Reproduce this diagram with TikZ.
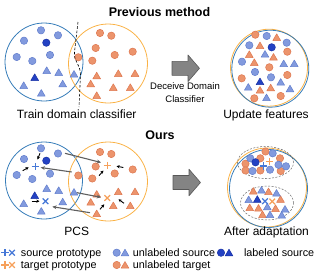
\documentclass[tikz,border=0pt]{standalone}
\usepackage{fontspec}
\setmainfont{Liberation Sans}
\usetikzlibrary{arrows.meta}
\definecolor{srcF}{RGB}{130,154,222}
\definecolor{srcD}{RGB}{98,126,205}
\definecolor{darkF}{RGB}{35,65,195}
\definecolor{darkD}{RGB}{25,50,165}
\definecolor{tgtF}{RGB}{236,148,108}
\definecolor{tgtD}{RGB}{222,118,78}
\definecolor{ringB}{RGB}{55,125,185}
\definecolor{ringO}{RGB}{250,178,70}
\definecolor{protoB}{RGB}{70,120,215}
\definecolor{protoO}{RGB}{246,160,90}
\definecolor{arrG}{RGB}{95,95,95}
\definecolor{bigF}{RGB}{132,132,132}
\definecolor{bigD}{RGB}{88,88,88}
\newcommand\Dot[3]{\filldraw[#1] (#2,#3) circle (3.7pt);}
\newcommand\Tri[3]{\filldraw[#1,line join=round] (#2,#3) +(0,-3.5) -- +(3.9,3.2) -- +(-3.9,3.2) -- cycle;}
\newcommand\Pls[3]{\draw[#1,line width=1.3pt] (#2,#3) +(-3.6,0) -- +(3.6,0) (#2,#3) +(0,-3.6) -- +(0,3.6);}
\newcommand\Crs[3]{\draw[#1,line width=1.3pt] (#2,#3) +(-2.8,-2.8) -- +(2.8,2.8) (#2,#3) +(-2.8,2.8) -- +(2.8,-2.8);}
\newcommand\BigArrow[2]{\filldraw[fill=bigF,draw=bigD,line width=0.6pt,line join=round]
  (#1,#2) ++(0,-7) -- ++(16,0) -- ++(0,-6.3) -- ++(11.5,13.3) -- ++(-11.5,13.3) -- ++(0,-6.3) -- ++(-16,0) -- cycle;}
\tikzset{
  src/.style={fill=srcF,draw=srcD,line width=0.5pt},
  dark/.style={fill=darkF,draw=darkD,line width=0.5pt},
  tgt/.style={fill=tgtF,draw=tgtD,line width=0.5pt},
  ringb/.style={draw=ringB,line width=0.8pt},
  ringo/.style={draw=ringO,line width=0.8pt},
  title/.style={font=\fontsize{12.5}{14}\selectfont\bfseries,inner sep=0pt,anchor=base},
  lab/.style={font=\fontsize{12}{14}\selectfont,inner sep=0pt,anchor=base},
  leg/.style={font=\fontsize{10.8}{13}\selectfont,inner sep=0pt,anchor=base west},
  small/.style={-{Stealth[length=3.2pt,width=3.2pt]},line width=0.9pt,black},
  long/.style={-{Stealth[length=4.2pt,width=3.8pt]},line width=1.1pt,arrG},
  dell/.style={draw=black!60,line width=0.5pt,dash pattern=on 2pt off 1.5pt}
}
\begin{document}
\begin{tikzpicture}[x=1pt,y=-1pt]
\useasboundingbox (0,0) rectangle (319,276);
% ---------------- titles
\node[title] (t1) at (159.5,16) {Previous method};
\node[title] (t2) at (160,139.5) {Ours};
% ---------------- top left
\draw[ringb] (44,62) circle (39pt);
\draw[ringo] (108,63.5) circle (39.5pt);
\foreach \x/\y in {41/30.3,58/35.3,24/40.7,16.7/57,32.3/61,50/55} {\Dot{src}{\x}{\y}}
\Dot{dark}{46.3}{42.7}
\foreach \x/\y in {46.7/70.3,58.7/72.3,74/74,23.7/85.3,62.7/83.7,41.3/93} {\Tri{src}{\x}{\y}}
\Tri{dark}{34.7}{77.3}
\foreach \x/\y in {100/33,111.3/35.7,95.7/48,114.7/55,132.7/51.7,78.3/57.3,92.3/60.7} {\Dot{tgt}{\x}{\y}}
\foreach \x/\y in {96.7/75.7,118.3/73.3,135/73.3,90.7/83.7,113.3/87.3,130.3/87.3,96.7/95.3} {\Tri{tgt}{\x}{\y}}
\draw[black,line width=0.6pt,dash pattern=on 2.5pt off 1.8pt] (78,22) -- (74.5,52) .. controls (73.5,62) and (80.5,64) .. (80.5,75) -- (79,107);
\node[lab] (l1) at (76.7,118.5) {Train domain classifier};
% ---------------- top arrow
\BigArrow{172}{68.3}
\node[font=\fontsize{9.5}{12.7}\selectfont,align=center,inner sep=0pt] (dc) at (185,92.9) {Deceive Domain\\Classifier};
% ---------------- top right
\draw[ringo] (269,67.7) circle (38.5pt);
\draw[ringb] (270.3,68.7) circle (38.5pt);
\foreach \x/\y in {255.3/34.7,287.3/51.7,269.3/67.3,241.7/78.3,287.3/75,254.3/98.3,280.7/96} {\Dot{tgt}{\x}{\y}}
\foreach \x/\y in {266.7/36,249.3/45.3,286.7/42.7,242/61.7,255/72,271/77.3} {\Dot{src}{\x}{\y}}
\Dot{dark}{271.7}{47.3}
\foreach \x/\y in {276.7/37.3,260/45.5,249.3/54.3,254.3/62.3,273.5/57,270.7/87.7,260/90} {\Tri{tgt}{\x}{\y}}
\foreach \x/\y in {265/54,283.7/63.5,294.3/63.5,248.3/87,280.7/82,290/88.7,266.5/97.5} {\Tri{src}{\x}{\y}}
\Tri{dark}{260}{81.5}
\node[lab] (l2) at (266,118.7) {Update features};
% ---------------- bottom left
\draw[ringb] (44,180.5) circle (38.5pt);
\draw[ringo] (108,181.5) circle (39.5pt);
\foreach \x/\y in {41/148.3,58/153.5,24/159,16.7/175,32.3/179,50/173.7} {\Dot{src}{\x}{\y}}
\Dot{dark}{46.3}{160.7}
\foreach \x/\y in {46.7/188.3,58.7/190.3,74/192,23.7/203.3,62.7/201.7,41.3/211} {\Tri{src}{\x}{\y}}
\Tri{dark}{34.7}{195.3}
\foreach \x/\y in {100/152,111.3/154,95.7/166.5,114.7/173.5,132.7/169.5,78.3/175.5,92.3/178.5} {\Dot{tgt}{\x}{\y}}
\foreach \x/\y in {96.7/194,118.3/191.5,135/191.5,90.7/202,113.3/205.5,130.3/205.5,96.7/213.5} {\Tri{tgt}{\x}{\y}}
\Pls{protoB}{35.3}{166.7}
\Crs{protoB}{45.5}{201.2}
\Pls{protoO}{107.3}{165.5}
\Crs{protoO}{107.3}{198}
% small arrows
\coordinate (a1s) at (40,153.3);   \coordinate (a1e) at (37.5,159.5);
\coordinate (a2s) at (22.7,170.7); \coordinate (a2e) at (28.7,167.3);
\coordinate (a3s) at (31.5,201.2); \coordinate (a3e) at (39.5,201.2);
\coordinate (a4s) at (123.3,167.5);\coordinate (a4e) at (116.5,166.2);
\coordinate (a5s) at (99,175.7);   \coordinate (a5e) at (103.5,170.5);
\coordinate (a6s) at (124,203.3);  \coordinate (a6e) at (118.5,199.3);
\coordinate (a7s) at (100,209.3);  \coordinate (a7e) at (104.3,204.3);
\foreach \i in {1,...,7} {\draw[small] (a\i s) -- (a\i e);}
% long gray arrows
\coordinate (g1s) at (65,153.3);   \coordinate (g1e) at (101,162.5);
\coordinate (g2s) at (71.7,172);   \coordinate (g2e) at (40.7,167.5);
\coordinate (g3s) at (77,192.7);   \coordinate (g3e) at (101,197.3);
\coordinate (g4s) at (90,212.7);   \coordinate (g4e) at (52.3,206.7);
\foreach \i in {1,...,4} {\draw[long] (g\i s) -- (g\i e);}
\node[lab] (l3) at (76.7,235.3) {PCS};
% ---------------- bottom arrow
\BigArrow{173}{182.5}
% ---------------- bottom right
\draw[ringo] (267,187.5) circle (39.5pt);
\draw[ringb] (268.5,188.5) circle (39pt);
\draw[dell] (265.5,162.5) ellipse (28pt and 16pt);
\draw[dell] (267,203) ellipse (26.5pt and 17pt);
\foreach \x/\y in {265.5/151.5,260.3/158.3,280/158.3,245.5/163.7,245.5/170.5,260.3/170.5,280.7/171} {\Dot{tgt}{\x}{\y}}
\foreach \x/\y in {272.7/153.3,250.3/158.3,278.5/164.8,286/166.3,252.5/171,270/169.7} {\Dot{src}{\x}{\y}}
\Dot{dark}{255.5}{162.3}
\Pls{protoB}{263.7}{166}
\Pls{protoO}{269.7}{161.7}
\foreach \x/\y in {253.3/191,268.5/191.5,280.5/199.2,249.7/207.5,258.5/208,275.5/208.3,262.5/214.5} {\Tri{tgt}{\x}{\y}}
\foreach \x/\y in {261.5/190,276.5/193,248.7/199.5,267.3/206.7,285/209,270/214.5,281.7/215} {\Tri{src}{\x}{\y}}
\Tri{dark}{257.3}{199.2}
\Crs{protoB}{265}{201.2}
\Crs{protoO}{272.3}{201.5}
\node[lab] (l4) at (266.5,235.5) {After adaptation};
% ---------------- legend
\Pls{protoB}{5}{252.7}
\Crs{protoB}{12}{252.7}
\node[leg] (k1) at (20.7,256.2) {source prototype};
\Dot{src}{116.7}{252.7}
\Tri{src}{125}{252.7}
\node[leg] (k2) at (132.7,256.2) {unlabeled source};
\Dot{dark}{221}{252.7}
\Tri{dark}{229}{252.7}
\node[leg] (k3) at (243.8,256.2) {labeled source};
\Pls{protoO}{5}{265}
\Crs{protoO}{12}{265}
\node[leg] (k4) at (20.7,268.5) {target prototype};
\Dot{tgt}{116.7}{265}
\Tri{tgt}{125}{265}
\node[leg] (k5) at (132.7,268.5) {unlabeled target};
\end{tikzpicture}
\end{document}
